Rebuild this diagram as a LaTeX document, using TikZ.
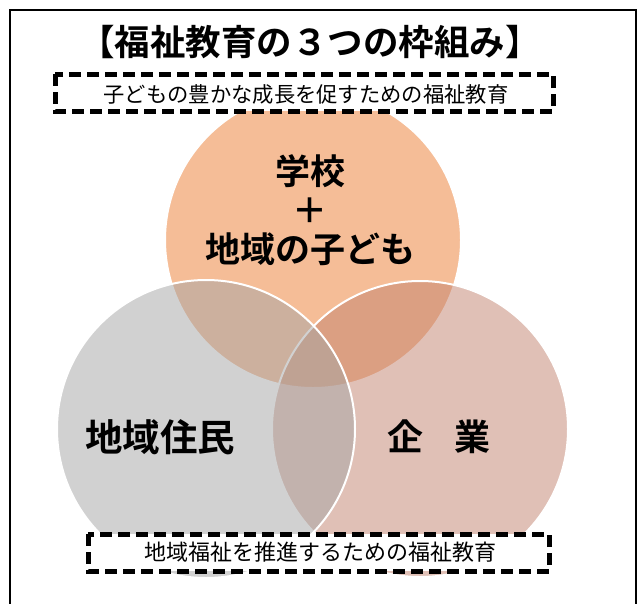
\documentclass[tikz,border=0pt]{standalone}
\usepackage{fontspec}
\newfontfamily\jp{Noto Sans CJK JP}
\newfontfamily\jpb{Noto Sans CJK JP Bold}
\definecolor{cTop}{RGB}{237,125,49}
\definecolor{cLeft}{RGB}{165,165,165}
\definecolor{cRight}{RGB}{195,130,110}
\tikzset{
  venn/.style={circle, fill opacity=0.5, draw=white, draw opacity=1, line width=2pt},
  dashbox/.style={draw=black, fill=white, line width=5pt, dash pattern=on 12pt off 6pt},
  bigtext/.style={font=\jpb\fontsize{35}{39}\selectfont, align=center, inner sep=0pt},
  subtext/.style={inner sep=0pt}
}
\begin{document}
\begin{tikzpicture}[x=1pt,y=-1pt]
\useasboundingbox (0,0) rectangle (642,603);
\fill[white] (0,0) rectangle (642,603);
% frame
\coordinate (fbl) at (10,610);
\coordinate (ftl) at (10,10);
\coordinate (ftr) at (636,10);
\coordinate (fbr) at (636,610);
\draw[line width=2pt] (fbl) -- (ftl) -- (ftr) -- (fbr);
% title
\node[inner sep=0pt, font=\jpb\fontsize{35.5}{40}\selectfont] (title) at (310,42) {【福祉教育の３つの枠組み】};
% circles
\path[venn, fill=cTop] (313,240) circle[radius=148];
\path[venn, fill=cRight] (420,429) circle[radius=148];
\path[venn, fill=cLeft] (206,429) circle[radius=149];
\node[bigtext] (school) at (310,210) {学校\\＋\\地域の子ども};
\node[bigtext, font=\jpb\fontsize{37.5}{40}\selectfont] (resid) at (160,437) {地域住民};
\node[bigtext, font=\jpb\fontsize{36}{40}\selectfont] (corp) at (439,437) {企\hspace{-5pt}　業};
% dashed boxes
\draw[dashbox] (55,74) rectangle (553,111);
\node[subtext, font=\jp\fontsize{21.3}{24}\selectfont] (sub1) at (306,94) {子どもの豊かな成長を促すための福祉教育};
\draw[dashbox] (88,534) rectangle (549,571);
\node[subtext, font=\jp\fontsize{22}{24}\selectfont] (sub2) at (320,552) {地域福祉を推進するための福祉教育};
\end{tikzpicture}
\end{document}
